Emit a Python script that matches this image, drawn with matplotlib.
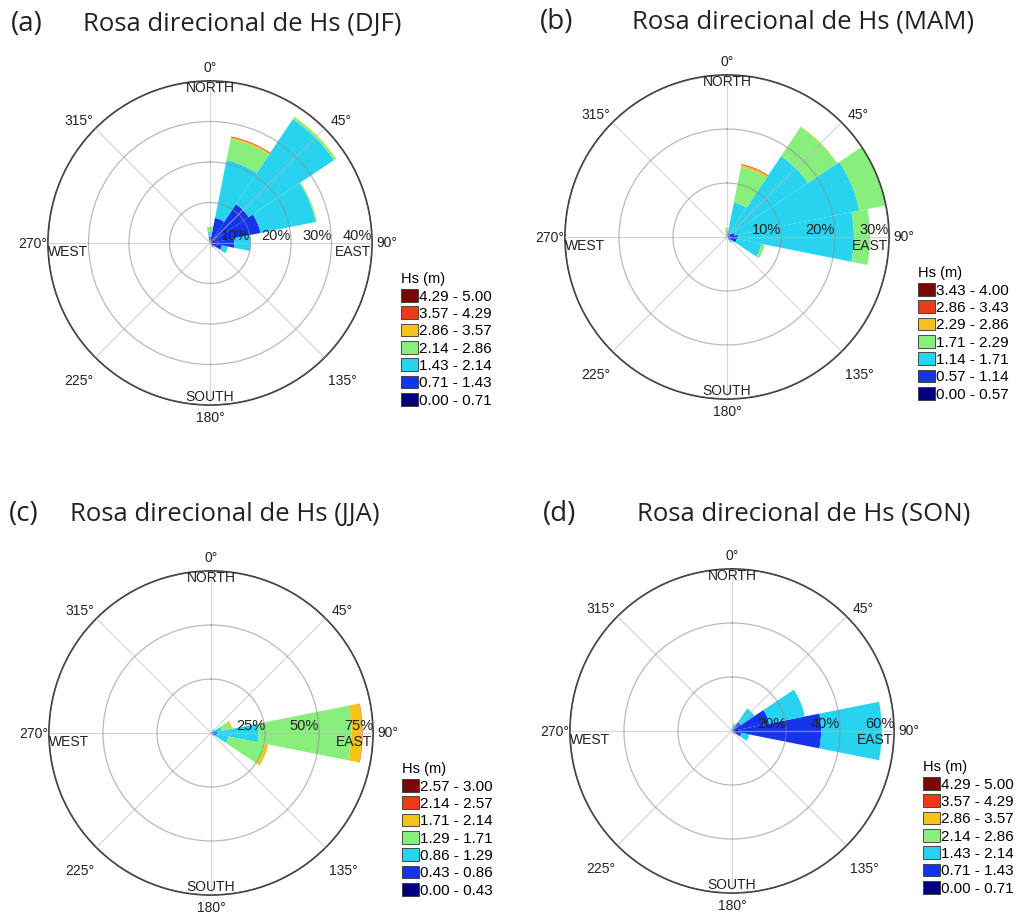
import numpy as np
import matplotlib
matplotlib.use('Agg')
import matplotlib.pyplot as plt
from matplotlib.patches import Patch

# 16 direction sectors (deg, clockwise from north)
dirs = np.arange(0, 360, 22.5)

# class colours (low -> high Hs)
colors = ['#00007f', '#1633ec', '#27d3ef', '#88ee7c', '#f3c418', '#ee3a18', '#7a0808']

# stacked frequency (%) per Hs class, rows = classes, cols = 16 directions
#            0   22.5   45  67.5    90 112.5  135 157.5 180 ... 337.5
djf = [
    [0.5, 0.8, 1.2, 1.2, 1.2, 1.0, 0.8, 0.3, 0, 0, 0, 0, 0, 0, 0, 0.3],
    [1.0, 5.5, 10.3, 11.5, 4.8, 2.0, 0.5, 0, 0, 0, 0, 0, 0, 0, 0, 0],
    [1.2, 14.5, 25.3, 13.9, 4.0, 1.5, 0, 0, 0, 0, 0, 0, 0, 0, 0, 0],
    [1.3, 5.4, 0.6, 0.3, 0.1, 0, 0, 0, 0, 0, 0, 0, 0, 0, 0, 0],
    [0, 0.4, 0.1, 0, 0, 0, 0, 0, 0, 0, 0, 0, 0, 0, 0, 0],
    [0, 0.2, 0, 0, 0, 0, 0, 0, 0, 0, 0, 0, 0, 0, 0, 0],
    [0, 0, 0, 0, 0, 0, 0, 0, 0, 0, 0, 0, 0, 0, 0, 0],
]
mam = [
    [0.2, 0.3, 0.3, 0.4, 0.6, 0.6, 0.4, 0, 0, 0, 0, 0, 0, 0, 0, 0],
    [0.3, 0.4, 0.6, 1.0, 1.4, 1.2, 0.4, 0, 0, 0, 0, 0, 0, 0, 0, 0],
    [0.6, 5.8, 17.1, 23.6, 21.5, 4.7, 0.5, 0, 0, 0, 0, 0, 0, 0, 0, 0],
    [0.3, 6.7, 6.5, 5.0, 3.0, 0.6, 0, 0, 0, 0, 0, 0, 0, 0, 0, 0],
    [0.3, 0.4, 0.1, 0, 0, 0, 0, 0, 0, 0, 0, 0, 0, 0, 0, 0],
    [0, 0.15, 0, 0, 0, 0, 0, 0, 0, 0, 0, 0, 0, 0, 0, 0],
    [0, 0, 0, 0, 0, 0, 0, 0, 0, 0, 0, 0, 0, 0, 0, 0],
]
jja = [
    [0, 0, 0.3, 0.5, 1.0, 0.8, 0.4, 0, 0, 0, 0, 0, 0, 0, 0, 0],
    [0, 0, 0.5, 1.0, 2.0, 1.5, 0.5, 0, 0, 0, 0, 0, 0, 0, 0, 0],
    [0, 0, 1.0, 3.5, 19.0, 6.0, 0.5, 0, 0, 0, 0, 0, 0, 0, 0, 0],
    [0, 0, 0.5, 4.0, 43.0, 17.2, 0.3, 0, 0, 0, 0, 0, 0, 0, 0, 0],
    [0, 0, 0, 1.0, 5.0, 1.5, 0, 0, 0, 0, 0, 0, 0, 0, 0, 0],
    [0, 0, 0, 0, 0.2, 0, 0, 0, 0, 0, 0, 0, 0, 0, 0, 0],
    [0, 0, 0, 0, 0, 0, 0, 0, 0, 0, 0, 0, 0, 0, 0, 0],
]
son = [
    [0.3, 0.3, 1.0, 1.5, 2.5, 1.0, 0.5, 0, 0, 0, 0, 0, 0, 0, 0, 0],
    [0.4, 0.7, 3.0, 12.5, 30.5, 2.5, 0.5, 0, 0, 0, 0, 0, 0, 0, 0, 0],
    [0.5, 1.5, 6.0, 13.5, 22.5, 3.0, 0.3, 0, 0, 0, 0, 0, 0, 0, 0, 0],
    [0, 0.3, 0.2, 0, 0.1, 0, 0, 0, 0, 0, 0, 0, 0, 0, 0, 0],
    [0, 0.2, 0, 0, 0, 0, 0, 0, 0, 0, 0, 0, 0, 0, 0, 0],
    [0, 0, 0, 0, 0, 0, 0, 0, 0, 0, 0, 0, 0, 0, 0, 0],
    [0, 0, 0, 0, 0, 0, 0, 0, 0, 0, 0, 0, 0, 0, 0, 0],
]

labels_djf = ['0.00 - 0.71', '0.71 - 1.43', '1.43 - 2.14', '2.14 - 2.86', '2.86 - 3.57', '3.57 - 4.29', '4.29 - 5.00']
labels_mam = ['0.00 - 0.57', '0.57 - 1.14', '1.14 - 1.71', '1.71 - 2.29', '2.29 - 2.86', '2.86 - 3.43', '3.43 - 4.00']
labels_jja = ['0.00 - 0.43', '0.43 - 0.86', '0.86 - 1.29', '1.29 - 1.71', '1.71 - 2.14', '2.14 - 2.57', '2.57 - 3.00']
labels_son = labels_djf

rings_djf = [10, 20, 30, 40]
rings_mam = [10, 20, 30]
rings_jja = [25, 50, 75]
rings_son = [20, 40, 60]

panels = [
    ('(a)', 'Rosa direcional de Hs (DJF)', djf, labels_djf, rings_djf),
    ('(b)', 'Rosa direcional de Hs (MAM)', mam, labels_mam, rings_mam),
    ('(c)', 'Rosa direcional de Hs (JJA)', jja, labels_jja, rings_jja),
    ('(d)', 'Rosa direcional de Hs (SON)', son, labels_son, rings_son),
]

# axes boxes in pixels (left, top) on the 1018x918 canvas, size 324 px
W, H = 1018, 918
boxes = [(48, 81), (565, 75), (49, 571), (570, 569)]
title_pos = [(11, 83, 24), (540, 632, 22), (9, 70, 514), (543, 637, 514)]

lab_font = 'Liberation Sans'
fig = plt.figure(figsize=(W / 100, H / 100), dpi=100)

for (tag, title, data, labs, rings), (bx, by), (tx, ttx, ty) in zip(panels, boxes, title_pos):
    ax = fig.add_axes([bx / W, 1 - (by + 324) / H, 324 / W, 324 / H], projection='polar')
    ax.set_theta_zero_location('N')
    ax.set_theta_direction(-1)

    theta = np.deg2rad(dirs)
    width = np.deg2rad(22.5)
    bottom = np.zeros(len(dirs))
    for k, vals in enumerate(data):
        vals = np.array(vals, dtype=float)
        ax.bar(theta, vals, width=width, bottom=bottom, color=colors[k],
               edgecolor='none', linewidth=0, zorder=1)
        bottom += vals

    rmax = rings[-1]
    ax.set_ylim(0, rmax)
    ax.set_yticks(rings)
    ax.set_xticks(np.deg2rad(np.arange(0, 360, 45)))
    ax.set_xticklabels([])
    ax.set_yticklabels([])
    ax.set_axisbelow(False)
    ax.yaxis.grid(True, color='#8c8c8c', lw=0.9, alpha=0.6, zorder=3)
    ax.xaxis.grid(True, color='#bdbdbd', lw=0.9, alpha=0.6, zorder=3)
    ax.spines['polar'].set_color('#2b2b2b')
    ax.spines['polar'].set_linewidth(1.2)

    # ring labels along the east axis
    for r in rings:
        ax.text(np.pi / 2, r, f'{r}%', ha='right', va='bottom', fontsize=10.5,
                family=lab_font, color='#222222', zorder=5)

    tr = ax.transAxes
    kw = dict(transform=tr, fontsize=10, family=lab_font, color='#222222',
              ha='center', va='center')
    ax.text(0.5, 1.040, '0°', **kw)
    ax.text(0.5, 0.978, 'NORTH', **kw)
    ax.text(1.046, 0.5, '90°', **kw)
    ax.text(0.941, 0.472, 'EAST', **kw)
    ax.text(-0.046, 0.497, '270°', **kw)
    ax.text(0.062, 0.472, 'WEST', **kw)
    ax.text(0.5, 0.025, 'SOUTH', **kw)
    ax.text(0.5, -0.040, '180°', **kw)
    ax.text(0.905, 0.877, '45°', **kw)
    ax.text(0.095, 0.877, '315°', **kw)
    ax.text(0.908, 0.073, '135°', **kw)
    ax.text(0.095, 0.073, '225°', **kw)

    handles = [Patch(facecolor=colors[k], edgecolor='#333333', linewidth=0.6)
               for k in range(6, -1, -1)]
    ax.legend(handles, labs[::-1], loc='upper left', bbox_to_anchor=(1.09, 0.41),
              frameon=False, borderpad=0, handlelength=1.1, handleheight=0.9,
              handletextpad=0.1, labelspacing=0.18, borderaxespad=0,
              title='Hs (m)', alignment='left',
              prop={'family': lab_font, 'size': 11},
              title_fontproperties={'family': lab_font, 'size': 10.5})

    fig.text(tx / W, 1 - ty / H, tag, fontsize=20, family='Open Sans', ha='left', va='center', color='#222222')
    fig.text(ttx / W, 1 - ty / H, title, fontsize=18.5, family='Open Sans', ha='left', va='center', color='#222222')

fig.savefig('out.png', dpi=100)
